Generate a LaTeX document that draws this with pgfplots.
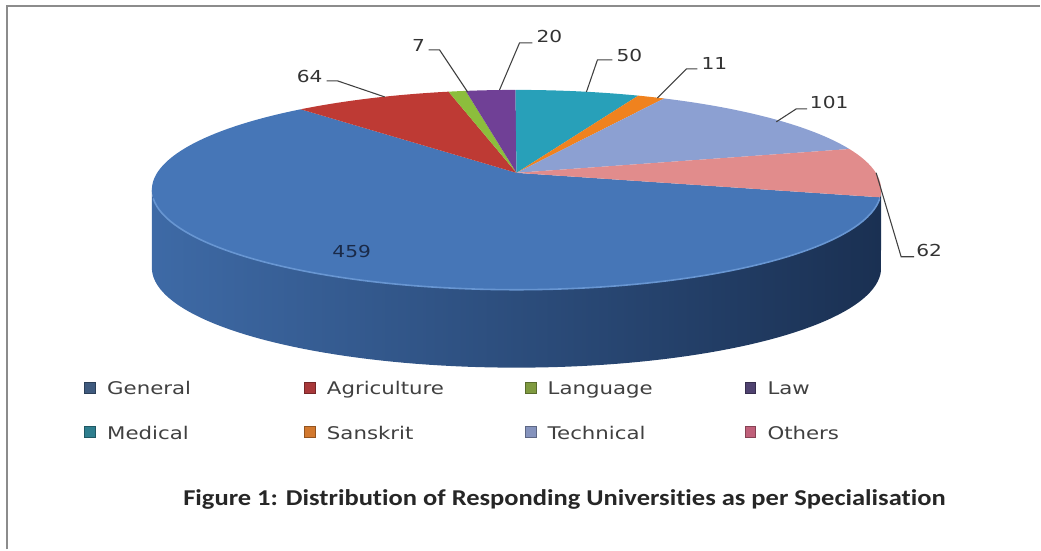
\documentclass[border=0pt]{standalone}
\usepackage{pgfplots}
\pgfplotsset{compat=1.18}
\usepackage{pgfplotstable}
\usepackage{fontspec}
\setmainfont{DejaVu Sans}[FakeStretch=1.22]
\newfontfamily\titlefont{Carlito}[FakeStretch=1.17, Ligatures=NoCommon]
\definecolor{cGen}{RGB}{70,118,183}
\definecolor{cAgr}{RGB}{190,58,52}
\definecolor{cLan}{RGB}{140,190,60}
\definecolor{cLaw}{RGB}{112,64,150}
\definecolor{cMed}{RGB}{40,160,185}
\definecolor{cSan}{RGB}{240,130,30}
\definecolor{cTec}{RGB}{140,160,210}
\definecolor{cOth}{RGB}{225,140,140}
\definecolor{sideL}{RGB}{62,106,166}
\definecolor{sideR}{RGB}{26,48,82}
\definecolor{rim}{RGB}{104,150,210}
\definecolor{mGen}{RGB}{63,90,126}
\definecolor{mAgr}{RGB}{168,56,58}
\definecolor{mLan}{RGB}{127,154,64}
\definecolor{mLaw}{RGB}{79,66,112}
\definecolor{mMed}{RGB}{46,126,142}
\definecolor{mSan}{RGB}{210,120,46}
\definecolor{mTec}{RGB}{133,147,189}
\definecolor{mOth}{RGB}{192,96,122}
\definecolor{txt}{RGB}{64,64,64}

\pgfplotstableread{
name value
General 459
Agriculture 64
Language 7
Law 20
Medical 50
Sanskrit 11
Technical 101
Others 62
}\datatable

\newcommand\lblfont{\fontsize{12.4pt}{14pt}\selectfont}
\newcommand\legfont{\fontsize{13.1pt}{15pt}\selectfont}

\begin{document}
\begin{tikzpicture}
\xdef\total{0}
\foreach \i in {0,...,7}{
  \pgfplotstablegetelem{\i}{value}\of\datatable
  \pgfmathsetmacro{\tmp}{\total+\pgfplotsretval}
  \xdef\total{\tmp}
}
\xdef\cum{0}
\foreach \i/\n in {0/a,1/b,2/c,3/d,4/e,5/f,6/g,7/h}{
  \pgfplotstablegetelem{\i}{value}\of\datatable
  \pgfmathsetmacro{\sliceHi}{346-\cum/\total*360}
  \pgfmathsetmacro{\newcum}{\cum+\pgfplotsretval}
  \pgfmathsetmacro{\sliceLo}{346-\newcum/\total*360}
  \expandafter\xdef\csname sH\n\endcsname{\sliceHi}
  \expandafter\xdef\csname sL\n\endcsname{\sliceLo}
  \xdef\cum{\newcum}
}
\begin{axis}[x=0.75pt, y=0.75pt, xmin=0, xmax=1041, ymin=0, ymax=550,
  hide axis, clip=false]
\path (axis cs:0,0) rectangle (axis cs:1041,550);
% side of the pie
\addplot[draw=none, left color=sideL, right color=sideR, domain=180:540, samples=181, variable=\t]
  ({517+365*cos(ifthenelse(\t<360.5,\t,720-\t))},
   {360+100*sin(ifthenelse(\t<360.5,\t,720-\t))-ifthenelse(\t<360.5,0,78)}) -- cycle;
% top face slices
\addplot[fill=cGen, draw=none, domain=\sLa:\sHa, samples=140, variable=\t]
  ({517+359.69*cos(\t)/(1+0.17*sin(\t))},{377+97.11*sin(\t)/(1+0.17*sin(\t))}) -- (axis cs:517,377) -- cycle;
\addplot[fill=cAgr, draw=none, domain=\sLb:\sHb, samples=30, variable=\t]
  ({517+359.69*cos(\t)/(1+0.17*sin(\t))},{377+97.11*sin(\t)/(1+0.17*sin(\t))}) -- (axis cs:517,377) -- cycle;
\addplot[fill=cLan, draw=none, domain=\sLc:\sHc, samples=6, variable=\t]
  ({517+359.69*cos(\t)/(1+0.17*sin(\t))},{377+97.11*sin(\t)/(1+0.17*sin(\t))}) -- (axis cs:517,377) -- cycle;
\addplot[fill=cLaw, draw=none, domain=\sLd:\sHd, samples=10, variable=\t]
  ({517+359.69*cos(\t)/(1+0.17*sin(\t))},{377+97.11*sin(\t)/(1+0.17*sin(\t))}) -- (axis cs:517,377) -- cycle;
\addplot[fill=cMed, draw=none, domain=\sLe:\sHe, samples=25, variable=\t]
  ({517+359.69*cos(\t)/(1+0.17*sin(\t))},{377+97.11*sin(\t)/(1+0.17*sin(\t))}) -- (axis cs:517,377) -- cycle;
\addplot[fill=cSan, draw=none, domain=\sLf:\sHf, samples=8, variable=\t]
  ({517+359.69*cos(\t)/(1+0.17*sin(\t))},{377+97.11*sin(\t)/(1+0.17*sin(\t))}) -- (axis cs:517,377) -- cycle;
\addplot[fill=cTec, draw=none, domain=\sLg:\sHg, samples=40, variable=\t]
  ({517+359.69*cos(\t)/(1+0.17*sin(\t))},{377+97.11*sin(\t)/(1+0.17*sin(\t))}) -- (axis cs:517,377) -- cycle;
\addplot[fill=cOth, draw=none, domain=\sLh:\sHh, samples=30, variable=\t]
  ({517+359.69*cos(\t)/(1+0.17*sin(\t))},{377+97.11*sin(\t)/(1+0.17*sin(\t))}) -- (axis cs:517,377) -- cycle;
% rim highlight
\addplot[rim, line width=1.2pt, domain=185:355, samples=80, variable=\t]
  ({517+365*cos(\t)},{360+100*sin(\t)});
% leader lines
\addplot[black!75, line width=0.8pt] coordinates {(327,469) (338,469) (385,453)};
\addplot[black!75, line width=0.8pt] coordinates {(429,500) (440,500) (468,458)};
\addplot[black!75, line width=0.8pt] coordinates {(533,507) (520,507) (500,460)};
\addplot[black!75, line width=0.8pt] coordinates {(613,490) (598,490) (587,458)};
\addplot[black!75, line width=0.8pt] coordinates {(698,481) (687,481) (658,452)};
\addplot[black!75, line width=0.8pt] coordinates {(808,441) (797,441) (777,428)};
\addplot[black!75, line width=0.8pt] coordinates {(915,293) (902,293) (877,377)};
% data labels
\node[font=\lblfont, text=black!80] at (axis cs:310,473) {64};
\node[font=\lblfont, text=black!80] at (axis cs:419,504) {7};
\node[font=\lblfont, text=black!80] at (axis cs:550,513) {20};
\node[font=\lblfont, text=black!80] at (axis cs:630,494) {50};
\node[font=\lblfont, text=black!80] at (axis cs:715,486) {11};
\node[font=\lblfont, text=black!80] at (axis cs:830,447) {101};
\node[font=\lblfont, text=black!80] at (axis cs:930,299) {62};
\node[font=\lblfont, text={rgb,255:red,26;green,42;blue,72}] at (axis cs:352,298) {459};
% legend
\addplot[only marks, mark=square*, mark size=4pt, mark options={fill=mGen, draw=mGen!70!black}] coordinates {(90,162)};
\addplot[only marks, mark=square*, mark size=4pt, mark options={fill=mAgr, draw=mAgr!70!black}] coordinates {(310,162)};
\addplot[only marks, mark=square*, mark size=4pt, mark options={fill=mLan, draw=mLan!70!black}] coordinates {(531,162)};
\addplot[only marks, mark=square*, mark size=4pt, mark options={fill=mLaw, draw=mLaw!70!black}] coordinates {(751,162)};
\addplot[only marks, mark=square*, mark size=4pt, mark options={fill=mMed, draw=mMed!70!black}] coordinates {(90,118)};
\addplot[only marks, mark=square*, mark size=4pt, mark options={fill=mSan, draw=mSan!70!black}] coordinates {(310,118)};
\addplot[only marks, mark=square*, mark size=4pt, mark options={fill=mTec, draw=mTec!70!black}] coordinates {(531,118)};
\addplot[only marks, mark=square*, mark size=4pt, mark options={fill=mOth, draw=mOth!70!black}] coordinates {(751,118)};
\node[font=\legfont, text=txt, anchor=base west, inner sep=0pt] at (axis cs:107,155) {General};
\node[font=\legfont, text=txt, anchor=base west, inner sep=0pt] at (axis cs:327,155) {Agriculture};
\node[font=\legfont, text=txt, anchor=base west, inner sep=0pt] at (axis cs:548,155) {Language};
\node[font=\legfont, text=txt, anchor=base west, inner sep=0pt] at (axis cs:768,155) {Law};
\node[font=\legfont, text=txt, anchor=base west, inner sep=0pt] at (axis cs:107,110) {Medical};
\node[font=\legfont, text=txt, anchor=base west, inner sep=0pt] at (axis cs:327,110) {Sanskrit};
\node[font=\legfont, text=txt, anchor=base west, inner sep=0pt] at (axis cs:548,110) {Technical};
\node[font=\legfont, text=txt, anchor=base west, inner sep=0pt] at (axis cs:768,110) {Others};
% title
\node[font=\titlefont\bfseries\fontsize{17pt}{20pt}\selectfont, text=black!85] at (axis cs:565,50)
  {Figure 1: Distribution of Responding Universities as per Specialisation};
% frame
\addplot[black!45, line width=1.5pt] coordinates {(7,0) (7,544) (1041,544)};
\end{axis}
\end{tikzpicture}
\end{document}
